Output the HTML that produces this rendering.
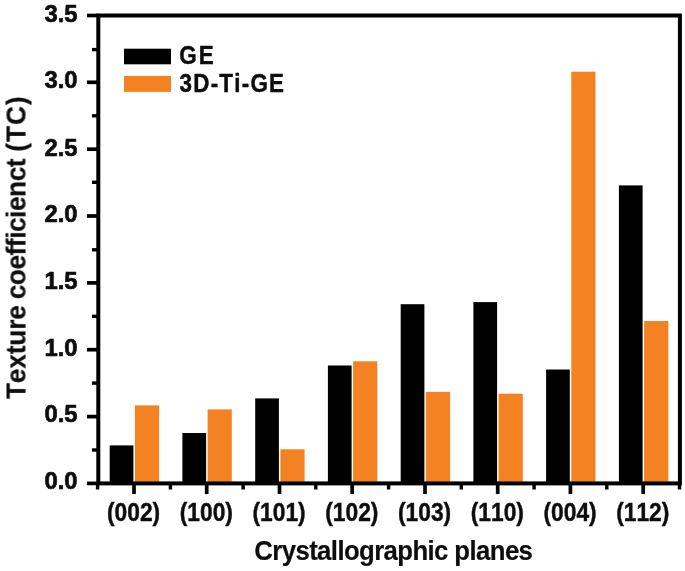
<!DOCTYPE html>
<html><head><meta charset="utf-8"><title>Texture coefficient chart</title>
<style>html,body{margin:0;padding:0;background:#fff;}svg{display:block}text{font-family:"Liberation Sans",Arial,Helvetica,sans-serif;font-weight:bold;font-kerning:none;fill:#0a0a0a;stroke:#0a0a0a;stroke-width:0.4;stroke-linejoin:round}</style></head><body>
<svg width="685" height="571" viewBox="0 0 685 571">
<defs><filter id="soft" x="0" y="0" width="685" height="571" filterUnits="userSpaceOnUse"><feGaussianBlur stdDeviation="0.45"/></filter></defs>
<rect width="685" height="571" fill="#fff"/>
<g filter="url(#soft)">
<rect x="109.7" y="445.4" width="23.7" height="38.0" fill="#060606"/>
<rect x="134.9" y="405.4" width="24.2" height="78.0" fill="#f58220"/>
<rect x="182.4" y="433.0" width="23.7" height="50.4" fill="#060606"/>
<rect x="207.6" y="409.4" width="24.2" height="74.0" fill="#f58220"/>
<rect x="255.2" y="398.4" width="23.7" height="85.0" fill="#060606"/>
<rect x="280.4" y="449.3" width="24.2" height="34.1" fill="#f58220"/>
<rect x="327.9" y="365.5" width="23.7" height="117.9" fill="#060606"/>
<rect x="353.1" y="361.3" width="24.2" height="122.1" fill="#f58220"/>
<rect x="400.7" y="304.2" width="23.7" height="179.2" fill="#060606"/>
<rect x="425.9" y="391.9" width="24.2" height="91.5" fill="#f58220"/>
<rect x="473.4" y="302.1" width="23.7" height="181.3" fill="#060606"/>
<rect x="498.6" y="393.7" width="24.2" height="89.7" fill="#f58220"/>
<rect x="546.1" y="369.5" width="23.7" height="113.9" fill="#060606"/>
<rect x="571.3" y="71.7" width="24.2" height="411.7" fill="#f58220"/>
<rect x="618.9" y="185.4" width="23.7" height="298.0" fill="#060606"/>
<rect x="644.1" y="321.0" width="24.2" height="162.4" fill="#f58220"/>
<rect x="98.3" y="15.5" width="581.6" height="467.9" fill="none" stroke="#060606" stroke-width="4.0"/>
<line x1="87" x2="98.3" y1="483.4" y2="483.4" stroke="#060606" stroke-width="3.7"/>
<text transform="translate(77.60 489.07) scale(0.96 1)" font-size="24.8" text-anchor="end" style="stroke-width:0.7">0.0</text>
<line x1="92" x2="98.3" y1="450.0" y2="450.0" stroke="#060606" stroke-width="3.4"/>
<line x1="87" x2="98.3" y1="416.6" y2="416.6" stroke="#060606" stroke-width="3.7"/>
<text transform="translate(77.60 422.40) scale(0.96 1)" font-size="24.8" text-anchor="end" style="stroke-width:0.7">0.5</text>
<line x1="92" x2="98.3" y1="383.1" y2="383.1" stroke="#060606" stroke-width="3.4"/>
<line x1="87" x2="98.3" y1="349.7" y2="349.7" stroke="#060606" stroke-width="3.7"/>
<text transform="translate(77.60 355.72) scale(0.96 1)" font-size="24.8" text-anchor="end" style="stroke-width:0.7">1.0</text>
<line x1="92" x2="98.3" y1="316.3" y2="316.3" stroke="#060606" stroke-width="3.4"/>
<line x1="87" x2="98.3" y1="282.9" y2="282.9" stroke="#060606" stroke-width="3.7"/>
<text transform="translate(77.60 289.04) scale(0.96 1)" font-size="24.8" text-anchor="end" style="stroke-width:0.7">1.5</text>
<line x1="92" x2="98.3" y1="249.8" y2="249.8" stroke="#060606" stroke-width="3.4"/>
<line x1="87" x2="98.3" y1="216.0" y2="216.0" stroke="#060606" stroke-width="3.7"/>
<text transform="translate(77.60 222.36) scale(0.96 1)" font-size="24.8" text-anchor="end" style="stroke-width:0.7">2.0</text>
<line x1="92" x2="98.3" y1="182.3" y2="182.3" stroke="#060606" stroke-width="3.4"/>
<line x1="87" x2="98.3" y1="149.2" y2="149.2" stroke="#060606" stroke-width="3.7"/>
<text transform="translate(77.60 155.68) scale(0.96 1)" font-size="24.8" text-anchor="end" style="stroke-width:0.7">2.5</text>
<line x1="92" x2="98.3" y1="115.8" y2="115.8" stroke="#060606" stroke-width="3.4"/>
<line x1="87" x2="98.3" y1="82.3" y2="82.3" stroke="#060606" stroke-width="3.7"/>
<text transform="translate(77.60 88.24) scale(0.96 1)" font-size="24.8" text-anchor="end" style="stroke-width:0.7">3.0</text>
<line x1="92" x2="98.3" y1="49.6" y2="49.6" stroke="#060606" stroke-width="3.4"/>
<line x1="87" x2="98.3" y1="15.5" y2="15.5" stroke="#060606" stroke-width="3.7"/>
<text transform="translate(77.60 21.90) scale(0.96 1)" font-size="24.8" text-anchor="end" style="stroke-width:0.7">3.5</text>
<line x1="134.0" x2="134.0" y1="483.4" y2="494" stroke="#060606" stroke-width="3.7"/>
<text transform="translate(133.60 521.40) scale(0.89 1)" font-size="25.6" text-anchor="middle">(002)</text>
<line x1="206.7" x2="206.7" y1="483.4" y2="494" stroke="#060606" stroke-width="3.7"/>
<text transform="translate(206.34 521.40) scale(0.89 1)" font-size="25.6" text-anchor="middle">(100)</text>
<line x1="279.5" x2="279.5" y1="483.4" y2="494" stroke="#060606" stroke-width="3.7"/>
<text transform="translate(279.08 521.40) scale(0.89 1)" font-size="25.6" text-anchor="middle">(101)</text>
<line x1="352.2" x2="352.2" y1="483.4" y2="494" stroke="#060606" stroke-width="3.7"/>
<text transform="translate(351.82 521.40) scale(0.89 1)" font-size="25.6" text-anchor="middle">(102)</text>
<line x1="425.0" x2="425.0" y1="483.4" y2="494" stroke="#060606" stroke-width="3.7"/>
<text transform="translate(424.56 521.40) scale(0.89 1)" font-size="25.6" text-anchor="middle">(103)</text>
<line x1="497.7" x2="497.7" y1="483.4" y2="494" stroke="#060606" stroke-width="3.7"/>
<text transform="translate(497.30 521.40) scale(0.89 1)" font-size="25.6" text-anchor="middle">(110)</text>
<line x1="570.4" x2="570.4" y1="483.4" y2="494" stroke="#060606" stroke-width="3.7"/>
<text transform="translate(570.04 521.40) scale(0.89 1)" font-size="25.6" text-anchor="middle">(004)</text>
<line x1="643.2" x2="643.2" y1="483.4" y2="494" stroke="#060606" stroke-width="3.7"/>
<text transform="translate(642.78 521.40) scale(0.89 1)" font-size="25.6" text-anchor="middle">(112)</text>
<line x1="97.6" x2="97.6" y1="483.4" y2="489.5" stroke="#060606" stroke-width="3.4"/>
<line x1="170.4" x2="170.4" y1="483.4" y2="489.5" stroke="#060606" stroke-width="3.4"/>
<line x1="243.1" x2="243.1" y1="483.4" y2="489.5" stroke="#060606" stroke-width="3.4"/>
<line x1="315.8" x2="315.8" y1="483.4" y2="489.5" stroke="#060606" stroke-width="3.4"/>
<line x1="388.6" x2="388.6" y1="483.4" y2="489.5" stroke="#060606" stroke-width="3.4"/>
<line x1="461.3" x2="461.3" y1="483.4" y2="489.5" stroke="#060606" stroke-width="3.4"/>
<line x1="534.1" x2="534.1" y1="483.4" y2="489.5" stroke="#060606" stroke-width="3.4"/>
<line x1="606.8" x2="606.8" y1="483.4" y2="489.5" stroke="#060606" stroke-width="3.4"/>
<line x1="679.5" x2="679.5" y1="483.4" y2="489.5" stroke="#060606" stroke-width="3.4"/>
<rect x="124" y="48.7" width="47" height="15.6" fill="#060606"/>
<rect x="124" y="75.9" width="47" height="16" fill="#f58220"/>
<text transform="translate(179.20 64.20) scale(0.9 1)" font-size="24.9" text-anchor="start" textLength="38.4" lengthAdjust="spacing">GE</text>
<text transform="translate(179.60 92.00) scale(0.9 1)" font-size="24.9" text-anchor="start" textLength="116.0" lengthAdjust="spacing">3D-Ti-GE</text>
<text transform="translate(254.30 559.80) scale(0.926 1)" font-size="27.8" text-anchor="start" textLength="300.9" lengthAdjust="spacing" style="stroke-width:0.15">Crystallographic planes</text>
<text transform="translate(25.5 399.0) rotate(-90) scale(0.9247 1)" font-size="28.3" style="stroke-width:0.2"><tspan x="0" letter-spacing="-0.12">Texture </tspan><tspan x="107.93" letter-spacing="-0.454">coefficienct </tspan><tspan x="267.55" letter-spacing="1.027">(TC)</tspan></text>
</g></svg></body></html>
